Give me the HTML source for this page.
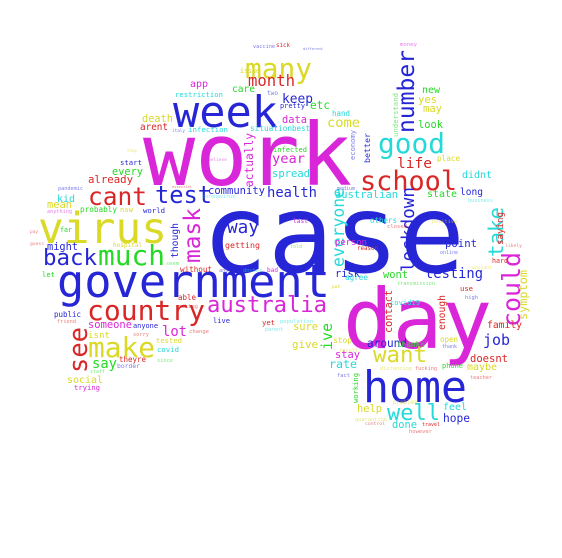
<!DOCTYPE html>
<html><head><meta charset="utf-8"><style>
html,body{margin:0;padding:0;background:#fff;width:562px;height:558px;overflow:hidden}
svg text{font-family:"DejaVu Sans Mono","Liberation Mono",monospace}
</style></head><body>
<svg id="cloud" width="562" height="558" viewBox="0 0 562 558" xmlns="http://www.w3.org/2000/svg"></svg>
<script>
// words: text, x, baseline (or bottom y for rotated), nominal size, length, color key, rotated
const words = [
["work",143,185,92,209,"m",0],["case",202,272,125,263,"b",0],["day",343,348,102,149,"m",0],
["government",57,297,46,273,"b",0],["school",360,190,33,97,"r",0],["week",173,127,36,105,"b",0],
["home",363,402,40,104,"b",0],["virus",38,243,50,129,"y",0],["cant",88,205,30,59,"r",0],
["test",155,203,26,57,"b",0],["back",43,265,30,54,"b",0],["much",98,265,30,67,"g",0],
["mask",200,263,26,55,"m",1],["way",227,233,30,32,"b",0],["country",87,320,36,118,"r",0],
["australia",207,312,32,120,"m",0],["see",87,373,26,46,"r",1],["make",88,357,36,67,"y",0],
["lot",162,336,24,25,"m",0],["say",92,368,20,25,"g",0],["someone",88,328,16,44,"m",0],
["isnt",88,338,16,22,"y",0],["anyone",133,328,11,25,"b",0],["social",67,383,18,36,"y",0],
["trying",74,390,12,26,"m",0],["theyre",119,362,12,27,"r",0],["covid",157,352,12,22,"c",0],
["tested",156,343,12,26,"y",0],["public",54,317,12,27,"b",0],["friend",57,323,10,19,"r",0],
["without",180,272,12,32,"r",0],["live",213,323,12,17,"b",0],["yet",262,325,12,13,"r",0],
["many",245,78,36,67,"y",0],["month",248,86,20,47,"r",0],["keep",282,103,20,31,"b",0],
["app",190,87,14,18,"m",0],["care",232,92,14,23,"g",0],["restriction",175,97,11,48,"c",0],
["two",267,95,10,11,"b",0],["death",142,122,16,31,"y",0],["arent",140,130,15,28,"r",0],
["infection",188,132,12,40,"c",0],["italy",172,132,9,13,"b",0],["situation",250,131,12,42,"c",0],
["best",292,131,12,18,"c",0],["data",282,123,16,25,"m",0],["come",327,127,22,33,"y",0],
["etc",310,109,16,20,"g",0],["pretty",280,108,12,25,"b",0],["hand",332,116,12,18,"c",0],
["good",378,153,40,67,"c",0],["number",414,133,22,83,"b",1],["new",422,93,16,18,"g",0],
["yes",418,103,16,19,"y",0],["may",423,112,16,19,"y",0],["look",418,128,18,25,"g",0],
["life",397,168,24,35,"r",0],["better",370,163,14,30,"b",1],["understand",398,137,10,44,"g",1],
["economy",355,160,9,30,"b",1],["didnt",462,178,14,30,"c",0],["long",460,195,16,23,"b",0],
["state",427,197,16,30,"g",0],["australian",335,198,16,63,"c",0],["take",503,257,32,50,"c",1],
["could",520,327,28,75,"m",1],["lockdown",414,272,18,85,"b",1],["everyone",344,267,20,79,"c",1],
["saying",503,245,13,33,"r",1],["symptom",527,320,14,50,"y",1],["testing",425,278,22,58,"b",0],
["point",445,247,18,32,"b",0],["wont",383,278,16,25,"g",0],["risk",335,277,16,25,"b",0],
["contact",392,333,14,43,"r",1],["enough",445,330,14,35,"r",1],["ive",332,350,18,27,"g",1],
["family",487,328,16,35,"r",0],["job",483,345,24,27,"b",0],["doesnt",470,362,16,38,"r",0],
["maybe",467,370,15,30,"y",0],["phone",442,368,12,21,"g",0],["want",373,362,32,54,"y",0],
["around",367,347,18,40,"b",0],["thanks",397,347,13,28,"g",0],["sure",293,330,20,25,"y",0],
["give",292,348,18,26,"y",0],["stay",335,358,18,25,"m",0],["rate",329,368,18,28,"c",0],
["well",387,420,36,53,"c",0],["feel",443,410,18,24,"c",0],["hope",443,422,18,27,"b",0],
["done",392,428,16,25,"c",0],["help",357,412,16,25,"y",0],["travel",422,426,11,18,"r",0],
["control",365,425,10,20,"r",0],["however",409,433,10,23,"r",0],["quarantine",355,421,10,32,"y",0],
["working",358,403,11,30,"g",1],["teacher",470,379,10,22,"r",0],["person",335,245,18,32,"m",0],
["reason",357,250,13,21,"r",0],["others",370,223,13,27,"c",0],["last",293,223,18,15,"m",0],
["health",267,197,22,50,"b",0],["community",208,194,16,57,"b",0],["year",272,163,22,33,"m",0],
["spread",272,177,18,38,"c",0],["infected",273,152,13,34,"g",0],["actually",253,187,14,54,"m",1],
["getting",225,248,18,35,"r",0],["though",178,258,14,35,"b",1],["every",112,175,17,31,"g",0],
["already",88,183,17,45,"r",0],["kid",57,202,18,18,"c",0],["mean",47,208,16,25,"y",0],
["might",47,250,18,31,"b",0],["probably",80,212,12,37,"g",0],["nsw",120,212,12,13,"y",0],
["start",120,165,12,22,"b",0],["world",143,213,12,22,"b",0],["hospital",113,247,12,29,"y",0],
["far",60,232,12,12,"g",0],["pandemic",58,190,10,25,"b",0],["anything",47,213,10,25,"m",0],
["pay",30,233,10,8,"r",0],["guess",30,245,9,14,"r",0],["let",42,277,14,13,"g",0],
["bad",267,272,13,11,"m",0],["another",219,272,10,22,"b",0],["doctor",243,272,10,19,"c",0],
["issue",240,73,12,20,"y",0],["vaccine",253,48,10,22,"b",0],["sick",276,47,12,14,"r",0],
["different",303,50,10,20,"b",0],["money",400,46,9,17,"m",0],["shop",127,152,9,10,"y",0],
["essential",172,188,10,20,"r",0],["coronavirus",202,198,10,33,"c",0],["believe",208,161,10,19,"m",0],
["medium",337,190,9,18,"b",0],["place",437,161,12,23,"y",0],["business",468,202,9,25,"c",0],
["positive",432,223,10,25,"y",0],["closed",387,228,10,20,"r",0],["likely",505,247,10,17,"r",0],
["online",440,254,9,18,"b",0],["shut",432,243,9,10,"b",0],["hard",492,263,12,16,"r",0],
["wouldnt",472,269,9,20,"y",0],["told",290,248,10,12,"g",0],["normal",285,271,10,18,"b",0],
["agree",345,280,11,23,"c",0],["put",332,288,11,8,"y",0],["transmission",397,285,9,38,"g",0],
["use",460,291,12,13,"r",0],["high",465,299,10,13,"b",0],["covid19",390,305,13,30,"c",0],
["open",440,342,12,18,"y",0],["thank",442,348,10,15,"b",0],["population",280,323,10,33,"c",0],
["parent",265,331,10,18,"c",0],["stop",333,343,12,19,"y",0],["result",339,352,10,19,"y",0],
["fact",337,377,10,13,"b",0],["distancing",380,370,10,32,"y",0],["fucking",415,370,10,22,"r",0],
["problem",393,404,9,24,"y",0],["border",117,368,10,23,"b",0],["staff",90,373,10,15,"g",0],
["since",157,362,10,16,"g",0],["sorry",133,336,10,16,"r",0],["change",189,333,10,20,"r",0],
["able",178,300,12,18,"r",0],["making",178,308,9,20,"r",0],["seem",166,265,9,13,"g",0]
];
const palette = {m:"#d926d9",b:"#2626d6",y:"#d9d926",r:"#d92626",g:"#26d926",c:"#26d9d9"};
const svgNS = "http://www.w3.org/2000/svg";
const svg = document.getElementById("cloud");
for (const w of words) {
  const t = document.createElementNS(svgNS, "text");
  
  
  const size = w[4] / (0.602 * w[0].length);
  t.setAttribute("x", w[1]);
  t.setAttribute("y", w[2]);
  t.setAttribute("font-size", size.toFixed(1));
  t.setAttribute("textLength", w[4]);
  t.setAttribute("lengthAdjust", "spacingAndGlyphs");
  t.setAttribute("fill", palette[w[5]]);
  if (w[3] < 11) t.setAttribute("fill-opacity", "0.6");
  if (w[6]) t.setAttribute("transform", "rotate(-90 " + w[1] + " " + w[2] + ")");
  t.textContent = w[0];
  svg.appendChild(t);
}
</script>
</body></html>
